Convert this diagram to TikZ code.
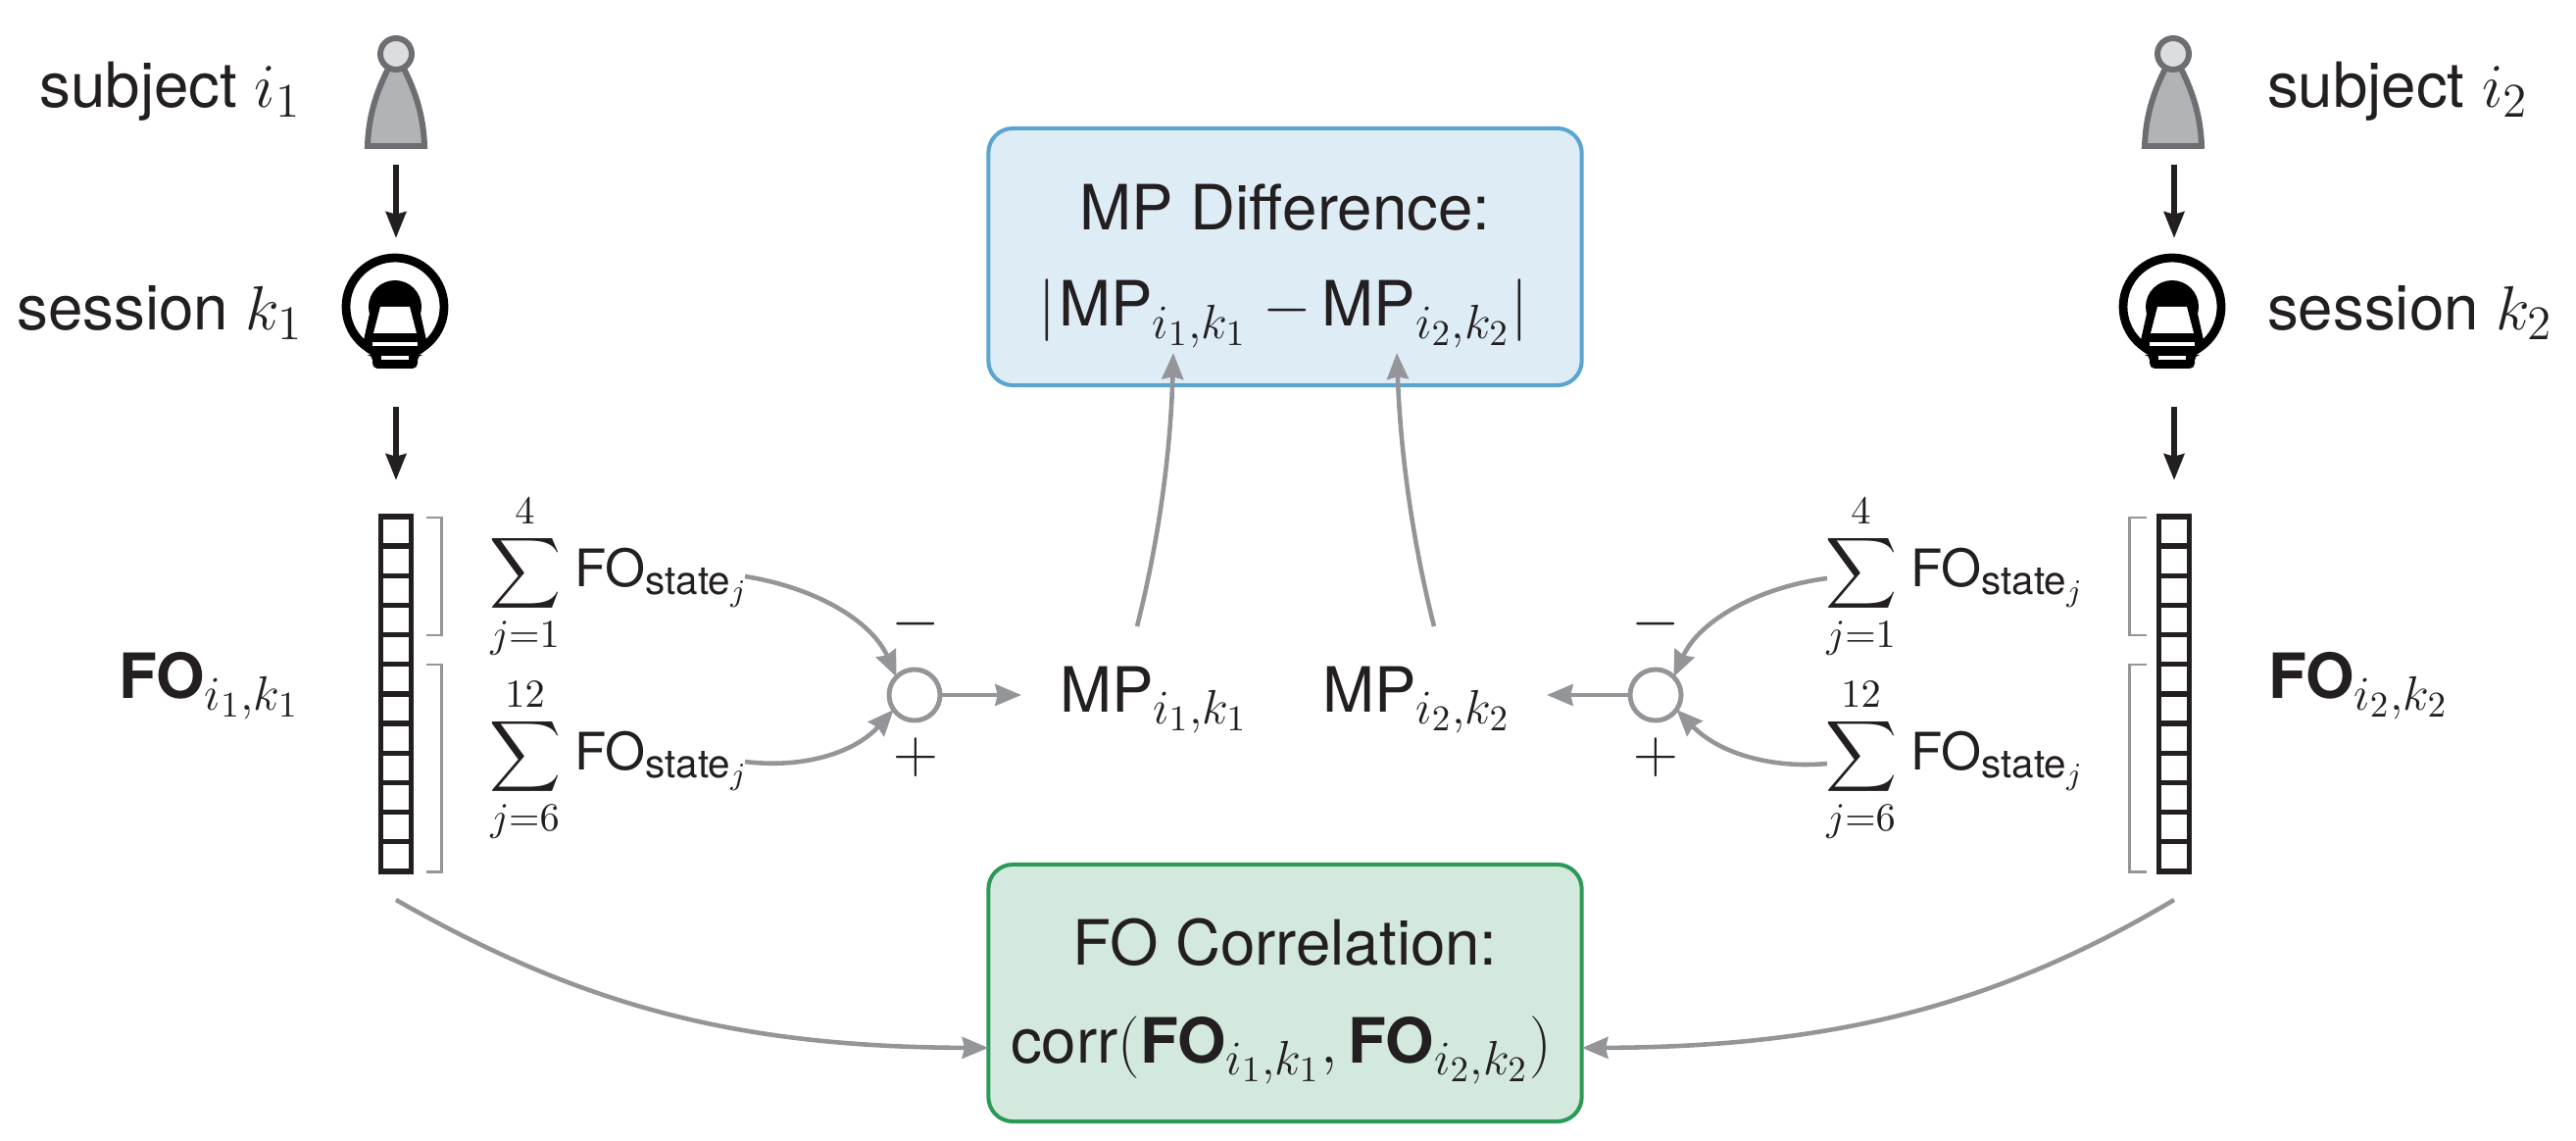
\documentclass[tikz,border=0pt]{standalone}
\usepackage{fix-cm}
\usepackage{amsmath}
\usepackage[no-math]{fontspec}
\setmainfont{TeX Gyre Heros}
\usetikzlibrary{arrows.meta,calc}
\DeclareMathSizes{18.1}{18.1}{14}{10.5}
\DeclareMathSizes{15}{15}{11.5}{9}
\definecolor{ink}{HTML}{231F20}
\definecolor{conn}{HTML}{939598}
\definecolor{pbody}{HTML}{B2B3B5}
\definecolor{phead}{HTML}{DCDDDE}
\definecolor{pline}{HTML}{6D6E71}
\definecolor{bluel}{HTML}{5BA4D0}
\definecolor{bluef}{HTML}{DEECF6}
\definecolor{greenl}{HTML}{2B9A57}
\definecolor{greenf}{HTML}{D4E9DD}
\newcommand{\bigtxt}{\fontsize{18.1}{21}\selectfont}
\newcommand{\sumtxt}{\fontsize{15}{18}\selectfont}
\newcommand{\fosum}[2]{$\displaystyle\sum_{j=#1}^{#2}$\hspace{4pt}FO$_{\text{state}_j}$}
\tikzset{
  x=0.01cm,y=-0.01cm,
  every node/.style={inner sep=0pt,outer sep=0pt,text=ink},
  lab/.style={font=\bigtxt,anchor=base},
  sumlab/.style={font=\sumtxt,anchor=base west},
  blackarrow/.style={draw=ink,line width=1.6pt,-{Stealth[length=7.6pt,width=5.8pt,inset=0.7pt]}},
  grayarrow/.style={draw=conn,line width=1.3pt,-{Stealth[length=7.6pt,width=6.2pt,inset=0.7pt]}},
  bracketline/.style={draw=conn,line width=0.85pt},
  cellbox/.style={draw=ink,line width=1.5pt,minimum width=0.31cm,minimum height=3.62cm},
  sumcircle/.style={circle,draw=conn,line width=1.4pt,minimum size=0.52cm},
  bluebox/.style={draw=bluel,fill=bluef,line width=1.15pt,rounded corners=0.25cm,minimum width=6.05cm,minimum height=2.62cm},
  greenbox/.style={draw=greenl,fill=greenf,line width=1.15pt,rounded corners=0.25cm,minimum width=6.05cm,minimum height=2.62cm},
}
\begin{document}
\begin{tikzpicture}
\useasboundingbox (0,0) rectangle (2628,1164);
\foreach \cx in {404,2217}{
  \begin{scope}[shift={(\cx,0)}]
    \draw[draw=pline,fill=pbody,line width=1.7pt,line join=miter]
      (-29,149) .. controls (-28,115) and (-18,90) .. (-8,70) -- (8,70) .. controls (18,90) and (28,115) .. (29,149) -- cycle;
    \draw[draw=pline,fill=phead,line width=1.7pt] (0,55) circle (16);
    \draw[draw=black,line width=2.5pt] (-1,313) circle (50);
    \fill[black] (-1,313) circle (27);
    \fill[black] (-27,320) -- (25,320) -- (31,347) -- (31,352) -- (-33,352) -- (-33,347) -- cycle;
    \fill[white] (-16,313) -- (14,313) -- (21,340) -- (-23,340) -- cycle;
    \fill[black,rounded corners=1.5pt] (-37,350) -- (35,350) -- (26,362) -- (22,362) -- (22,376) -- (-24,376) -- (-24,362) -- (-28,362) -- cycle;
    \fill[white] (-24,349) rectangle (22,353.5);
    \fill[white] (-15,363) rectangle (13,367);
  \end{scope}
}
\node[cellbox] (vec1) at (404,708) {};
\node[cellbox] (vec2) at (2218,708) {};
\foreach \n in {1,...,11}{
  \draw[draw=ink,line width=1.5pt] ($(vec1.north west)+(0,\n*30.17)$) -- ($(vec1.north east)+(0,\n*30.17)$);
  \draw[draw=ink,line width=1.5pt] ($(vec2.north west)+(0,\n*30.17)$) -- ($(vec2.north east)+(0,\n*30.17)$);
}
\draw[blackarrow] (404,168) -- (404,243);
\draw[blackarrow] (404,415) -- (404,490);
\draw[blackarrow] (2218,168) -- (2218,243);
\draw[blackarrow] (2218,415) -- (2218,490);
\draw[bracketline] (435,528) -- (450,528) -- (450,648) -- (435,648);
\draw[bracketline] (435,678) -- (450,678) -- (450,889) -- (435,889);
\draw[bracketline] (2190,528) -- (2172,528) -- (2172,648) -- (2190,648);
\draw[bracketline] (2190,678) -- (2172,678) -- (2172,889) -- (2190,889);
\node[lab,anchor=base east] (subj1) at (307,110) {subject $i_1$};
\node[lab,anchor=base east] (sess1) at (309,337) {session $k_1$};
\node[lab,anchor=base west] (subj2) at (2313,110) {subject $i_2$};
\node[lab,anchor=base west] (sess2) at (2313,337) {session $k_2$};
\node[lab,anchor=base east] (fo1) at (306,712) {\textbf{FO}$_{i_1,k_1}$};
\node[lab,anchor=base west] (fo2) at (2314,712) {\textbf{FO}$_{i_2,k_2}$};
\node[sumlab] (sa1) at (499,598) {\fosum{1}{4}};
\node[sumlab] (sb1) at (499,785) {\fosum{6}{12}};
\node[sumlab] (sa2) at (1862,598) {\fosum{1}{4}};
\node[sumlab] (sb2) at (1862,785) {\fosum{6}{12}};
\node[sumcircle] (c1) at (933,709) {};
\node[sumcircle] (c2) at (1689,709) {};
\node[lab] (m1) at (934,652) {$-$};
\node[lab] (p1) at (934,788) {$+$};
\node[lab] (m2) at (1689,652) {$-$};
\node[lab] (p2) at (1689,788) {$+$};
\node[lab,anchor=base west] (mp1) at (1081,726) {MP$_{i_1,k_1}$};
\node[lab,anchor=base west] (mp2) at (1349,726) {MP$_{i_2,k_2}$};
\node[bluebox] (diff) at (1311,262) {};
\node[lab] (diff1) at (1311,235) {MP Difference:};
\node[lab] (diff2) at (1309,333) {$|$\hspace{1pt}MP$_{i_1,k_1}$\hspace{4.5pt}$-$\hspace{3pt}MP$_{i_2,k_2}|$};
\node[greenbox] (corr) at (1311,1013) {};
\node[lab] (corr1) at (1311,984) {FO Correlation:};
\node[lab] (corr2) at (1307,1084) {corr$($\textbf{FO}$_{i_1,k_1},$\,\textbf{FO}$_{i_2,k_2})$};
\draw[grayarrow] (760,588) .. controls (835,600) and (890,635) .. (c1.135);
\draw[grayarrow] (760,777) .. controls (815,784) and (870,770) .. (c1.215);
\draw[grayarrow] (1864,590) .. controls (1800,598) and (1735,630) .. (c2.45);
\draw[grayarrow] (1864,779) .. controls (1810,784) and (1755,770) .. (c2.325);
\draw[grayarrow] (c1.east) -- (1042,709);
\draw[grayarrow] (c2.west) -- (1578,709);
\coordinate (up1) at (1160,639);
\coordinate (up2) at (1463,639);
\draw[grayarrow] (up1) .. controls (1180,560) and (1194,470) .. (1197,360);
\draw[grayarrow] (up2) .. controls (1443,560) and (1429,470) .. (1425,360);
\coordinate (bl) at (404,918);
\coordinate (br) at (2218,918);
\draw[grayarrow] (bl) .. controls (600,1030) and (760,1068) .. (corr.west|-0,1069);
\draw[grayarrow] (br) .. controls (2030,1030) and (1860,1068) .. (corr.east|-0,1069);
\end{tikzpicture}
\end{document}
